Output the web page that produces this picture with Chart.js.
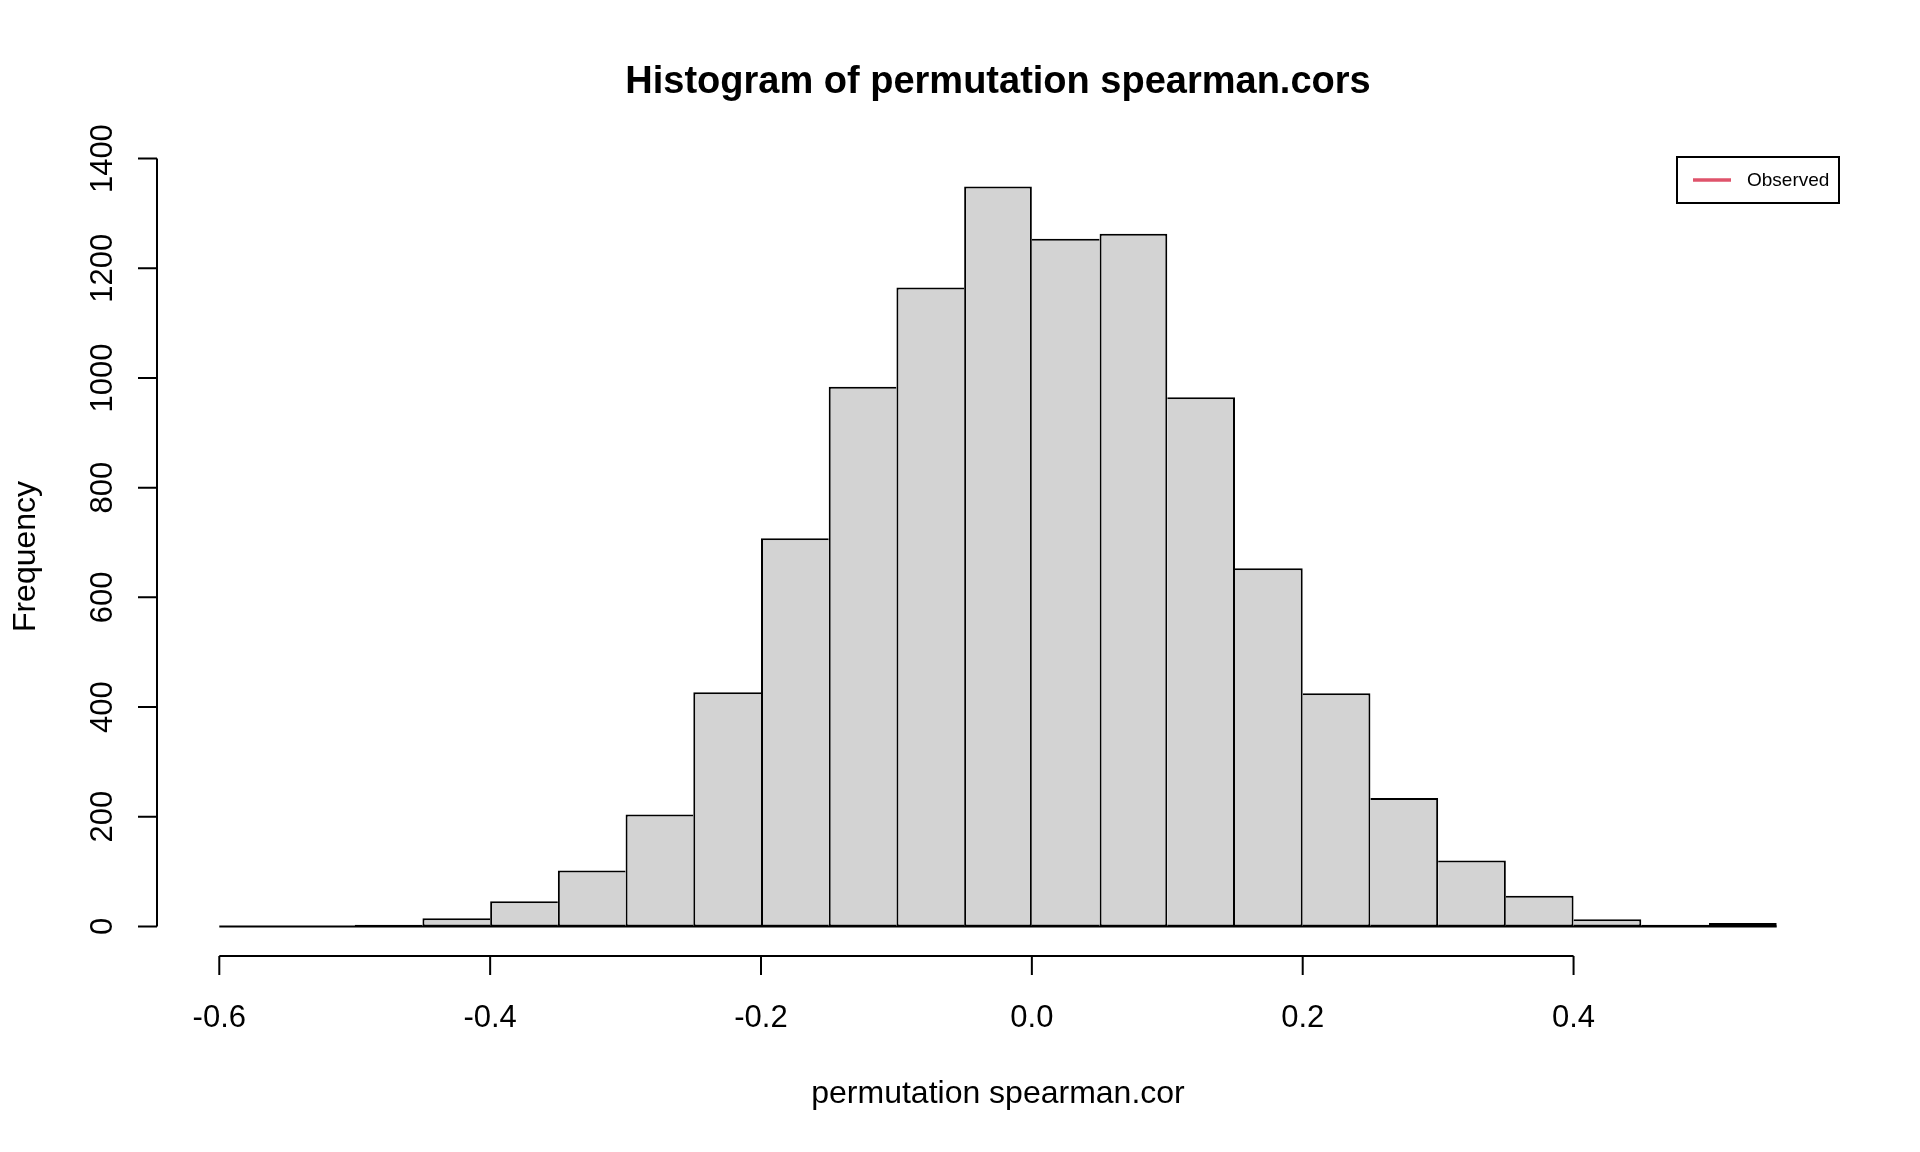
<!DOCTYPE html>
<html>
<head>
<meta charset="utf-8">
<title>Histogram of permutation spearman.cors</title>
<script src="https://cdn.jsdelivr.net/npm/chart.js@4.4.1/dist/chart.umd.min.js"></script>
<style>
  html, body { margin: 0; padding: 0; background: #ffffff; }
  canvas { display: block; }
</style>
</head>
<body>
<canvas id="hist" width="1920" height="1152"></canvas>
<script>
// histogram bins (0.05 wide) and counts
const binEdges = [-0.6, -0.55, -0.5, -0.45, -0.4, -0.35, -0.3, -0.25, -0.2, -0.15, -0.1, -0.05,
                  0, 0.05, 0.1, 0.15, 0.2, 0.25, 0.3, 0.35, 0.4, 0.45, 0.5, 0.55];
const counts = [0, 0, 3, 15, 46, 102, 204, 427, 708, 984, 1165, 1349,
                1254, 1263, 965, 653, 425, 234, 120, 56, 13, 3, 6];

const xTicks = [-0.6, -0.4, -0.2, 0, 0.2, 0.4];
const xTickLabels = ['-0.6', '-0.4', '-0.2', '0.0', '0.2', '0.4'];
const yTicks = [0, 200, 400, 600, 800, 1000, 1200, 1400];
const yTickLabels = ['0', '200', '400', '600', '800', '1000', '1200', '1400'];

const legendLabels = ['Observed'];
const legendColors = ['#DF536B'];

const mainTitle = 'Histogram of permutation spearman.cors';
const xTitle = 'permutation spearman.cor';
const yTitle = 'Frequency';

const FONT = '"Liberation Sans", Arial, sans-serif';

// R style: axis ranges padded 4% each side
const xLo = binEdges[0], xHi = binEdges[binEdges.length - 1];
const yHi = Math.max(...counts);
const xPad = (xHi - xLo) * 0.04, yPad = yHi * 0.04;

const barData = counts.map((c, i) => ({x: (binEdges[i] + binEdges[i + 1]) / 2, y: c}));

const LW = 2;

// draw axes, titles and legend the way base R does
const rDecor = {
    id: 'rDecor',
    afterDraw(chart) {
        const ctx = chart.ctx;
        const xs = chart.scales.x, ys = chart.scales.y;
        const area = chart.chartArea;
        ctx.save();
        ctx.strokeStyle = '#000';
        ctx.fillStyle = '#000';
        ctx.lineWidth = LW;
        ctx.lineCap = 'butt';

        // x axis
        const axY = area.bottom;
        ctx.beginPath();
        ctx.moveTo(xs.getPixelForValue(xTicks[0]), axY);
        ctx.lineTo(xs.getPixelForValue(xTicks[xTicks.length - 1]), axY);
        xTicks.forEach(t => {
            const px = xs.getPixelForValue(t);
            ctx.moveTo(px, axY);
            ctx.lineTo(px, axY + 19);
        });
        ctx.stroke();
        ctx.font = '31px ' + FONT;
        ctx.textAlign = 'center';
        ctx.textBaseline = 'alphabetic';
        xTicks.forEach((t, i) => ctx.fillText(xTickLabels[i], xs.getPixelForValue(t), 1027));

        // y axis
        const axX = area.left;
        ctx.beginPath();
        ctx.moveTo(axX, ys.getPixelForValue(yTicks[0]));
        ctx.lineTo(axX, ys.getPixelForValue(yTicks[yTicks.length - 1]));
        yTicks.forEach(t => {
            const py = ys.getPixelForValue(t);
            ctx.moveTo(axX, py);
            ctx.lineTo(axX - 19, py);
        });
        ctx.stroke();
        yTicks.forEach((t, i) => {
            ctx.save();
            ctx.translate(112, ys.getPixelForValue(t));
            ctx.rotate(-Math.PI / 2);
            ctx.fillText(yTickLabels[i], 0, 0);
            ctx.restore();
        });

        // titles
        const midX = (area.left + area.right) / 2;
        ctx.font = 'bold 38px ' + FONT;
        ctx.fillText(mainTitle, midX, 93);
        ctx.font = '32px ' + FONT;
        ctx.fillText(xTitle, midX, 1103);
        ctx.save();
        ctx.translate(35, (area.top + area.bottom) / 2);
        ctx.rotate(-Math.PI / 2);
        ctx.fillText(yTitle, 0, 0);
        ctx.restore();

        // legend, top right of the plot region
        const bw = 162, bh = 46;
        const bx = area.right - bw, by = area.top;
        ctx.lineWidth = 2;
        ctx.strokeRect(bx, by, bw, bh);
        legendLabels.forEach((lab, i) => {
            const ly = by + 23 + i * 24;
            ctx.strokeStyle = legendColors[i];
            ctx.lineWidth = 3.4;
            ctx.beginPath();
            ctx.moveTo(bx + 16, ly);
            ctx.lineTo(bx + 54, ly);
            ctx.stroke();
            ctx.font = '19px ' + FONT;
            ctx.textAlign = 'left';
            ctx.textBaseline = 'middle';
            ctx.fillStyle = '#000';
            ctx.fillText(lab, bx + 70, ly + 1);
        });
        ctx.restore();
    }
};

new Chart(document.getElementById('hist').getContext('2d'), {
    type: 'bar',
    data: {
        datasets: [
            {
                type: 'bar',
                label: 'counts',
                data: barData,
                backgroundColor: '#D3D3D3',
                borderColor: '#000000',
                borderSkipped: false,
                // each shared edge is drawn once, by the taller neighbour
                borderWidth: (c) => {
                    const i = c.dataIndex;
                    const cur = counts[i];
                    const prev = i > 0 ? counts[i - 1] : 0;
                    const next = i < counts.length - 1 ? counts[i + 1] : 0;
                    return {
                        top: LW,
                        bottom: LW,
                        left: cur >= prev ? LW : 0,
                        right: cur > next ? LW : 0
                    };
                },
                barPercentage: 1,
                categoryPercentage: 1,
                grouped: false,
                inflateAmount: 0,
                order: 1
            },
            {
                type: 'line',
                label: 'baseline',
                data: [{x: xLo, y: 0}, {x: xHi, y: 0}],
                borderColor: '#000000',
                borderWidth: LW,
                pointRadius: 0,
                order: 2
            }
        ]
    },
    options: {
        responsive: false,
        devicePixelRatio: 1,
        animation: false,
        layout: {
            padding: {left: 157, right: 81, top: 157, bottom: 196}
        },
        plugins: {
            legend: {display: false},
            title: {display: false},
            tooltip: {enabled: false}
        },
        scales: {
            x: {
                type: 'linear',
                display: false,
                offset: false,
                min: xLo - xPad,
                max: xHi + xPad
            },
            y: {
                type: 'linear',
                display: false,
                min: -yPad,
                max: yHi + yPad
            }
        }
    },
    plugins: [rDecor]
});
</script>
</body>
</html>
